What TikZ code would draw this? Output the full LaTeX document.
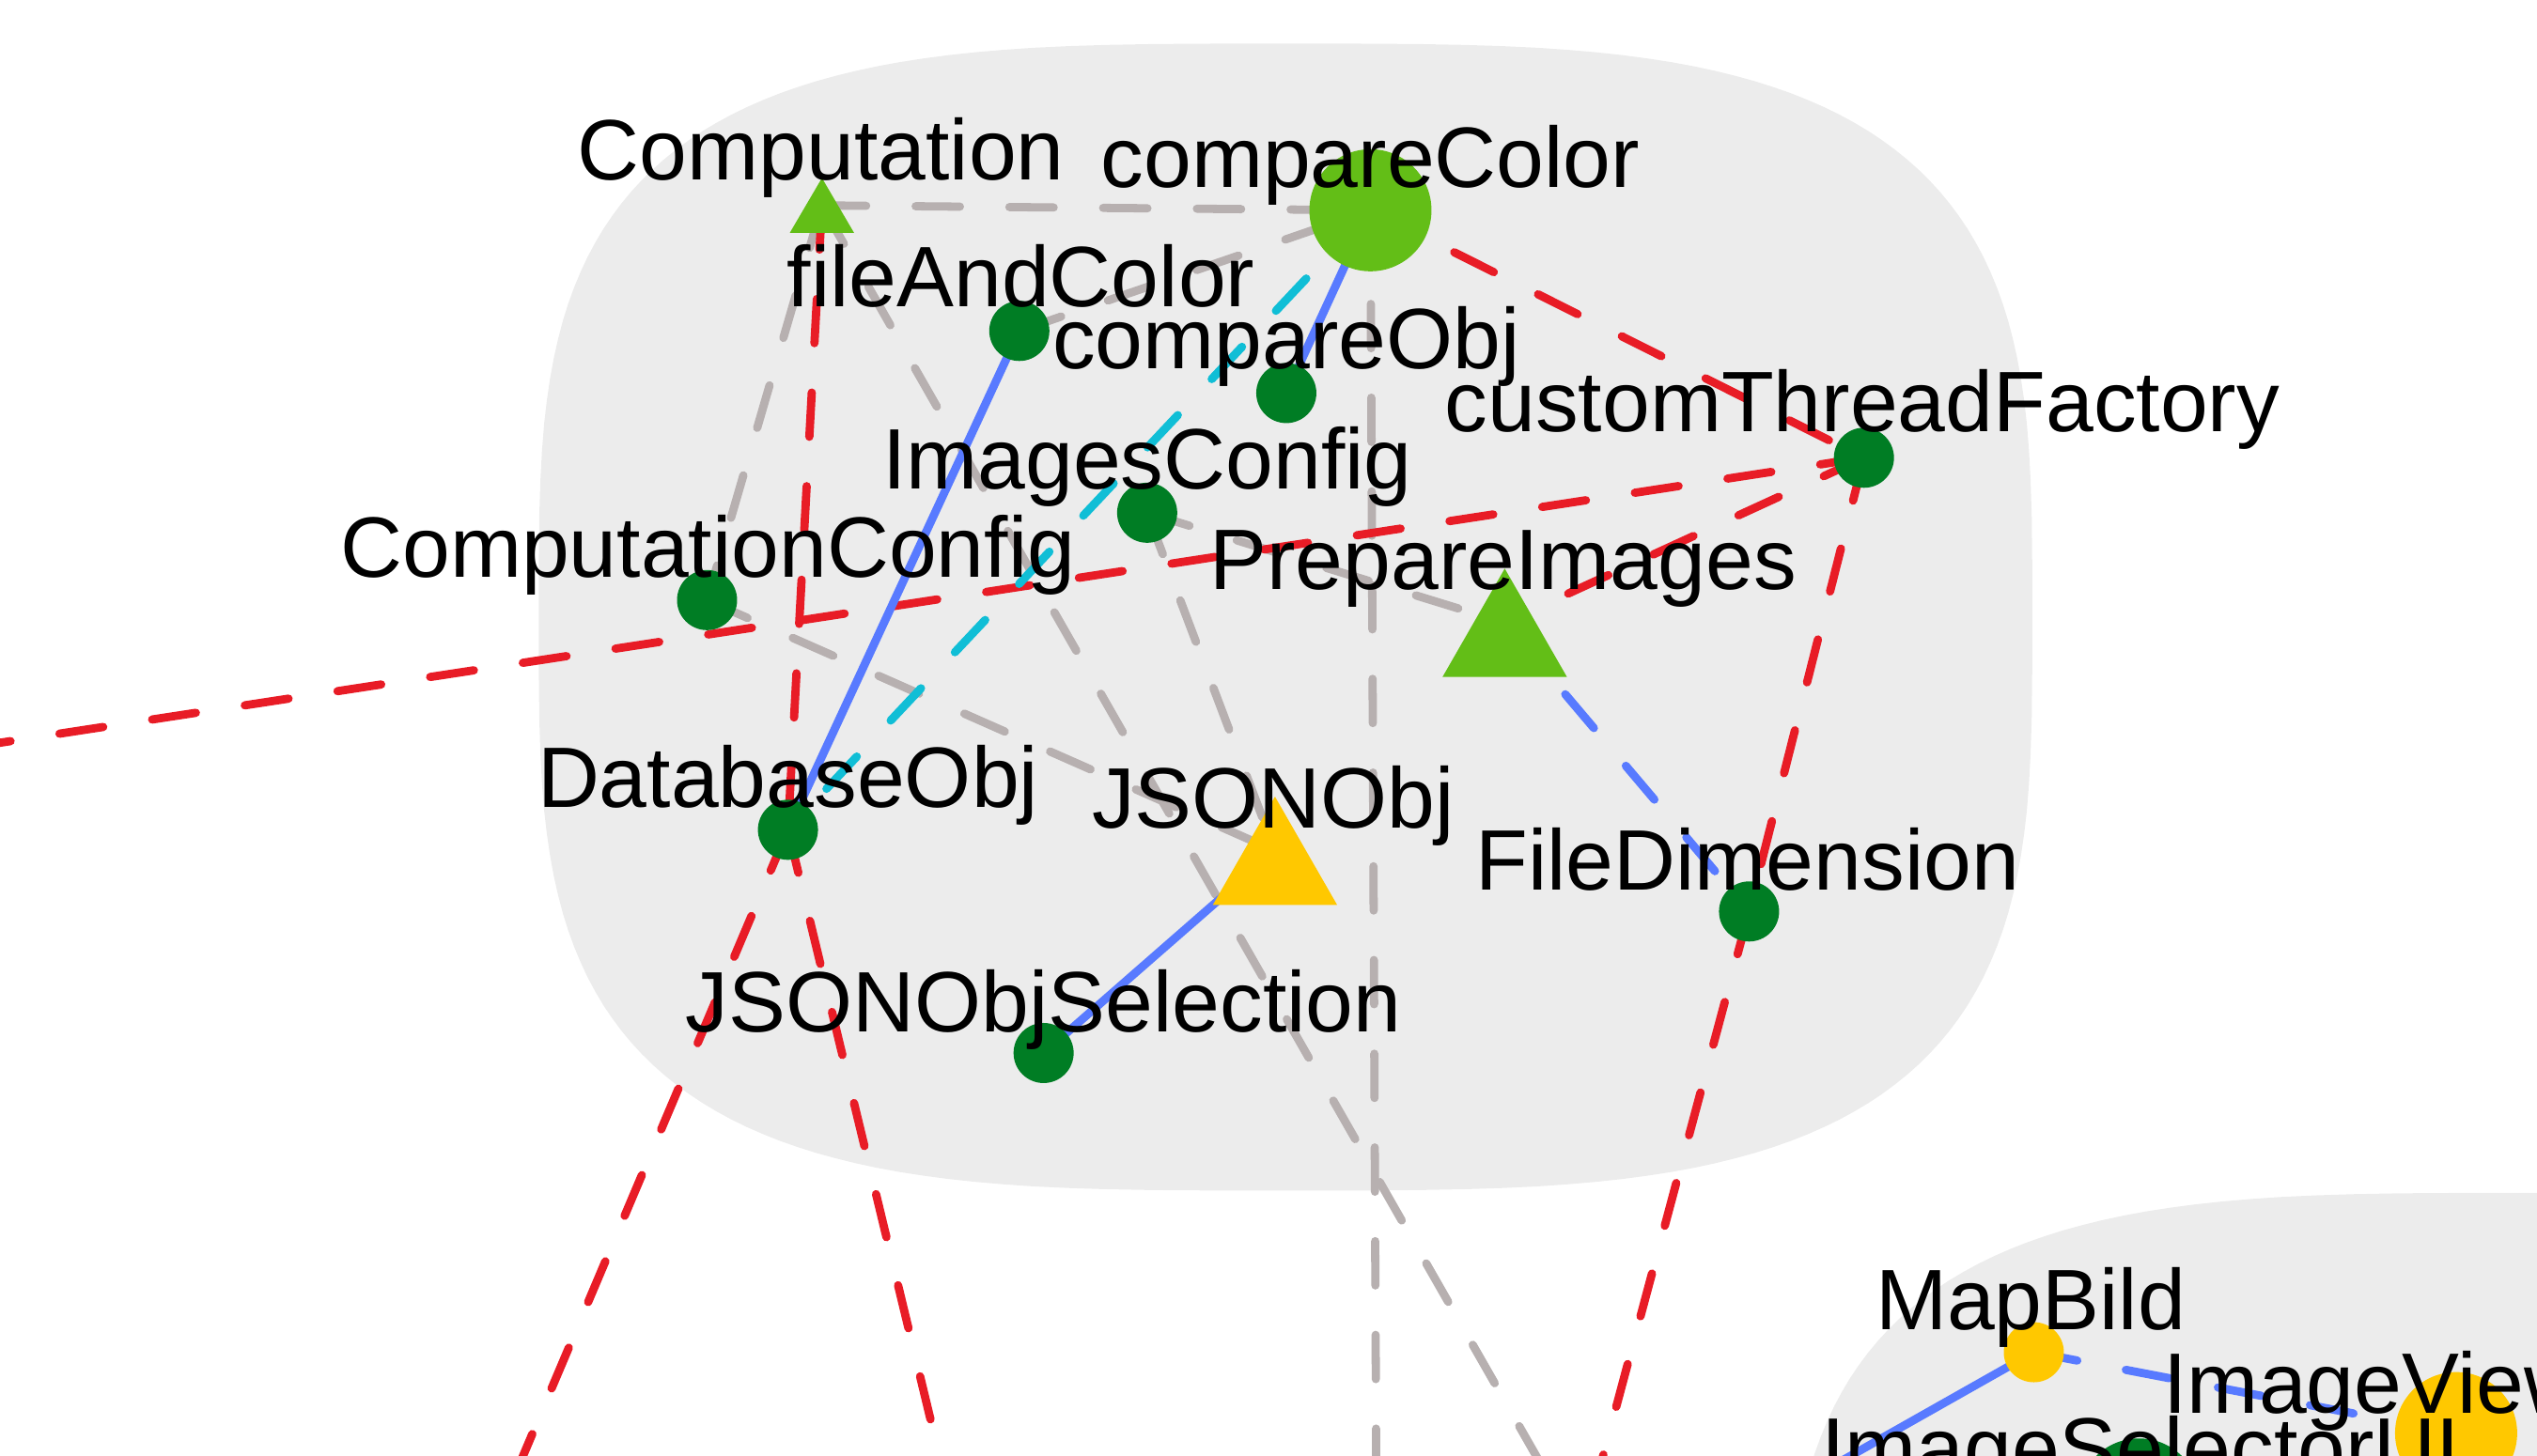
\documentclass[tikz,border=0pt]{standalone}
\usepackage{fontspec}
\setmainfont{Liberation Sans}
\usetikzlibrary{shapes.geometric}
\pgfdeclarelayer{blobs}
\pgfdeclarelayer{links}
\pgfsetlayers{blobs,links,main}
\definecolor{blobgray}{RGB}{236,236,236}
\definecolor{edgegray}{RGB}{183,176,176}
\definecolor{edgered}{RGB}{232,28,38}
\definecolor{edgeblue}{RGB}{88,122,255}
\definecolor{edgecyan}{RGB}{16,190,214}
\definecolor{dgreen}{RGB}{0,125,36}
\definecolor{lgreen}{RGB}{99,190,23}
\definecolor{nodeyellow}{RGB}{255,200,0}
\begin{document}
\begin{tikzpicture}[x=0.01722cm,y=-0.01722cm,
  dot/.style={circle,fill=#1,inner sep=0pt,minimum size=0.64cm},
  dot/.default=dgreen,
  bigdot/.style={circle,fill=#1,inner sep=0pt,minimum size=1.3cm},
  tribox/.style={rectangle,inner sep=0pt,minimum width=1.31cm,minimum height=1.14cm},
  smalltribox/.style={rectangle,inner sep=0pt,minimum width=0.67cm,minimum height=0.57cm},
  lbl/.style={anchor=base,inner sep=0pt,font=\fontsize{26}{30}\selectfont},
  link/.style={line width=2.5pt,line cap=round},
  dsh/.style={dash pattern=on 13.4pt off 15pt},
  grayln/.style={link,dsh,draw=edgegray},
  redln/.style={link,dsh,draw=edgered},
  blueln/.style={link,draw=edgeblue},
  bluedsh/.style={link,dsh,draw=edgeblue},
  cyanln/.style={link,dsh,draw=edgecyan}]
\useasboundingbox (0,0) rectangle (1568,900);

% background regions
\begin{pgfonlayer}{blobs}
\fill[blobgray] plot[domain=1:361,samples=181,variable=\t]
  ({794.5+461.5*sign(cos(\t))*pow(abs(cos(\t)),2/3.4)},
   {381.5+354.5*sign(sin(\t))*pow(abs(sin(\t)),2/3.4)}) -- cycle;
\fill[blobgray] plot[domain=1:361,samples=181,variable=\t]
  ({1565+461.5*sign(cos(\t))*pow(abs(cos(\t)),2/3.4)},
   {1092+354.5*sign(sin(\t))*pow(abs(sin(\t)),2/3.4)}) -- cycle;
\end{pgfonlayer}

% nodes
\node[smalltribox] (comp) at (508,127) {};
\node[bigdot=lgreen] (cc) at (847,130) {};
\node[dot] (fac) at (630,204.6) {};
\node[dot] (cobj) at (795,243) {};
\node[dot] (ctf) at (1152,283) {};
\node[dot] (ic) at (709,317) {};
\node[dot] (ccfg) at (437,371) {};
\node[tribox] (pi) at (930,385) {};
\node[dot] (db) at (487,513) {};
\node[tribox] (jo) at (788,526) {};
\node[dot] (fd) at (1081,563.5) {};
\node[dot] (jos) at (645,651) {};
\node[dot=nodeyellow] (mb) at (1257,836) {};
\node[bigdot=nodeyellow] (iv) at (1518,886) {};
\node[bigdot=dgreen] (isu) at (1322,927) {};
\fill[lgreen] (comp.south west) -- (comp.south east) -- (comp.north) -- cycle;
\fill[lgreen] (pi.south west) -- (pi.south east) -- (pi.north) -- cycle;
\fill[nodeyellow] (jo.south west) -- (jo.south east) -- (jo.north) -- cycle;

% ends of connectors that leave the picture
\coordinate (offA) at (1006.5,1000);
\coordinate (offB) at (851,1000);
\coordinate (offC) at (-200,489.8);
\coordinate (offD) at (964,1000);
\coordinate (offE) at (281,1000);
\coordinate (offF) at (604.7,1000);
\coordinate (offG) at (967,1000);

% connectors
\begin{pgfonlayer}{links}
\draw[grayln] (comp.center) -- (cc.center);
\draw[grayln] (comp.center) -- (ccfg.center);
\draw[grayln] (comp.center) -- (offA);
\draw[grayln] (fac.center) -- (cc.center);
\draw[grayln] (ccfg.center) -- (jo.center);
\draw[grayln] (ic.center) -- (jo.center);
\draw[grayln] (ic.center) -- (pi.center);
\draw[grayln] (cc.center) -- (offB);
\draw[redln] (comp.center) -- (db.center);
\draw[redln] (cc.center) -- (ctf.center);
\draw[redln] (ctf.center) -- (offC);
\draw[redln] (ctf.center) -- (pi.center);
\draw[redln] (ctf.center) -- (fd.center);
\draw[redln] (fd.center) -- (offD);
\draw[redln] (db.center) -- (offE);
\draw[redln] (db.center) -- (offF);
\draw[blueln] (fac.center) -- (db.center);
\draw[blueln] (cc.center) -- (cobj.center);
\draw[blueln] (jo.center) -- (jos.center);
\draw[blueln] (mb.center) -- (offG);
\draw[bluedsh] (pi.center) -- (fd.center);
\draw[bluedsh] (mb.center) -- (iv.center);
\draw[cyanln] (cc.center) -- (db.center);
\end{pgfonlayer}

% labels
\node[lbl] (compL) at (507.5,111.4) {Computation};
\node[lbl] (ccL) at (847,116) {compareColor};
\node[lbl] (facL) at (631,189.5) {fileAndColor};
\node[lbl] (cobjL) at (795,228) {compareObj};
\node[lbl] (ctfL) at (1151,267) {customThreadFactory};
\node[lbl] (icL) at (709,302) {ImagesConfig};
\node[lbl] (ccfgL) at (437.5,357) {ComputationConfig};
\node[lbl] (piL) at (929,364.6) {PrepareImages};
\node[lbl] (dbL) at (487,499) {DatabaseObj};
\node[lbl] (joL) at (787,512) {JSONObj};
\node[lbl] (fdL) at (1080,550) {FileDimension};
\node[lbl] (josL) at (645,638) {JSONObjSelection};
\node[lbl] (mbL) at (1255,822) {MapBild};
\node[lbl] (ivL) at (1518,874) {ImageViewerUI};
\node[lbl] (isuL) at (1323,914) {ImageSelectorUI};
\end{tikzpicture}
\end{document}
